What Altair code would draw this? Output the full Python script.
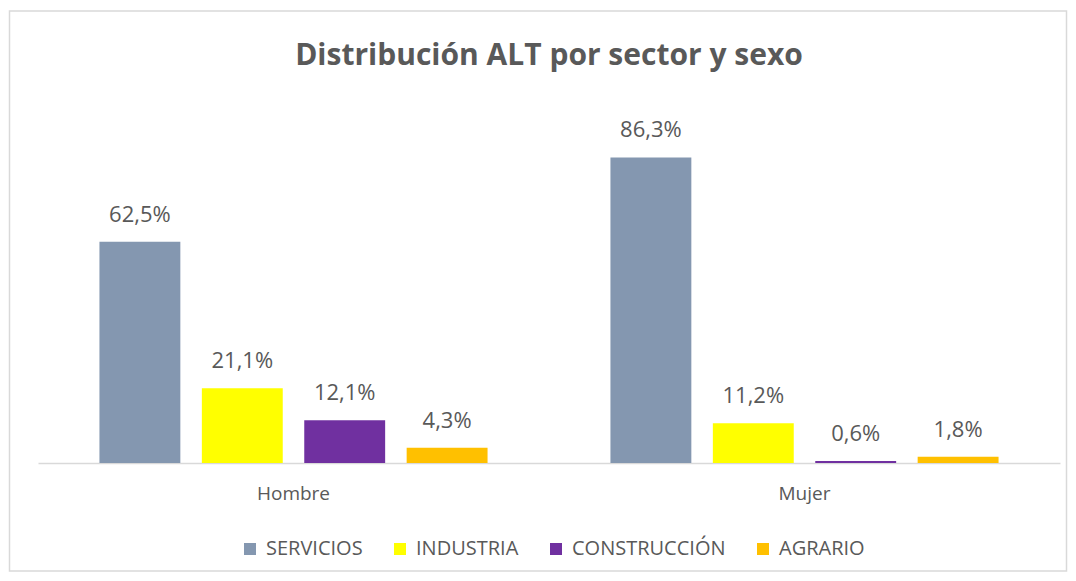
import altair as alt
import pandas as pd

sexes = ["Hombre", "Mujer"]
sectors = ["SERVICIOS", "INDUSTRIA", "CONSTRUCCIÓN", "AGRARIO"]
hombre = [62.5, 21.1, 12.1, 4.3]
mujer = [86.3, 11.2, 0.6, 1.8]
colors = ["#8497B0", "#FFFF00", "#7030A0", "#FFC000"]

rows = []
for sex, vals in zip(sexes, [hombre, mujer]):
    for sec, v in zip(sectors, vals):
        rows.append({"sexo": sex, "sector": sec, "valor": v,
                     "etiqueta": f"{v:.1f}".replace(".", ",") + "%"})
df = pd.DataFrame(rows)

FONT = "Open Sans"
W, H = 1022, 354

base = alt.Chart(df).encode(
    x=alt.X("sexo:N", sort=sexes, title=None,
            scale=alt.Scale(paddingInner=0, paddingOuter=0),
            axis=alt.Axis(labelAngle=0, ticks=False, domainColor="#D9D9D9",
                          domainWidth=1.5, labelFontSize=19, labelColor="#595959",
                          labelFont=FONT, labelPadding=21)),
    xOffset=alt.XOffset("sector:N", sort=sectors,
                        scale=alt.Scale(paddingInner=0.21, paddingOuter=0.6)),
)

bars = base.mark_bar().encode(
    y=alt.Y("valor:Q", scale=alt.Scale(domain=[0, 100]), axis=None),
    color=alt.Color("sector:N", sort=sectors,
                    scale=alt.Scale(domain=sectors, range=colors),
                    legend=alt.Legend(title=None, orient="none", direction="horizontal",
                                      legendX=202, legendY=430, padding=0,
                                      symbolType="square", symbolSize=144,
                                      symbolStrokeWidth=0,
                                      labelFontSize=20, labelColor="#595959",
                                      labelFont=FONT, columnPadding=27,
                                      labelOffset=6)),
)

labels = base.mark_text(baseline="alphabetic", dy=-20, fontSize=22, color="#595959",
                        font=FONT).encode(
    y=alt.Y("valor:Q"),
    text="etiqueta:N",
)

border = alt.Chart(pd.DataFrame({"k": [0]})).mark_rect(
    fill=None, stroke="#D9D9D9", strokeWidth=1.5
).encode(x=alt.value(-28.5), x2=alt.value(1028.5), y=alt.value(-98), y2=alt.value(462))

chart = alt.layer(border, bars, labels).properties(
    width=W, height=H,
    title=alt.Title("Distribución ALT por sector y sexo", fontSize=30, font=FONT,
                    fontWeight="bold", color="#595959", anchor="middle",
                    baseline="alphabetic", offset=-85),
    autosize=alt.AutoSizeParams(type="none"),
    padding={"left": 30, "top": 101, "right": 8, "bottom": 110},
).configure_view(stroke=None)

chart.save("out.html", embed_options={"renderer": "svg", "actions": False})
